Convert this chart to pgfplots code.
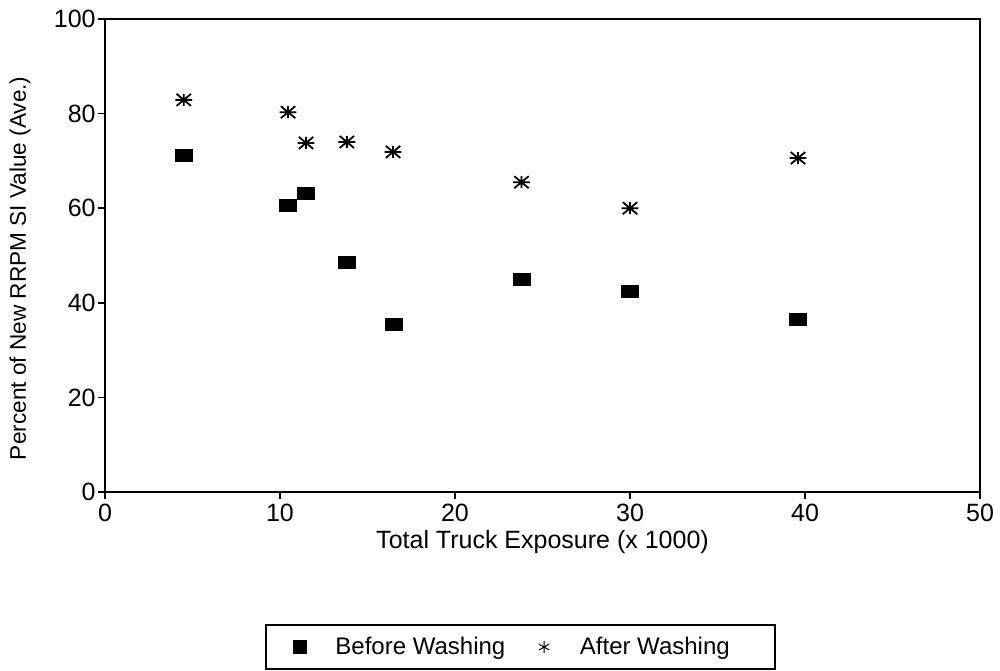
\documentclass[border=0pt]{standalone}
\usepackage{fontspec}
\setmainfont{Liberation Sans}
\usepackage{pgfplots}
\pgfplotsset{compat=1.18}
\pgfdeclareplotmark{wstar}{%
  \pgfpathmoveto{\pgfqpoint{-1.4\pgfplotmarksize}{0pt}}\pgfpathlineto{\pgfqpoint{1.4\pgfplotmarksize}{0pt}}%
  \pgfpathmoveto{\pgfqpoint{0pt}{-\pgfplotmarksize}}\pgfpathlineto{\pgfqpoint{0pt}{\pgfplotmarksize}}%
  \pgfpathmoveto{\pgfqpoint{-1.2\pgfplotmarksize}{-\pgfplotmarksize}}\pgfpathlineto{\pgfqpoint{1.2\pgfplotmarksize}{\pgfplotmarksize}}%
  \pgfpathmoveto{\pgfqpoint{-1.2\pgfplotmarksize}{\pgfplotmarksize}}\pgfpathlineto{\pgfqpoint{1.2\pgfplotmarksize}{-\pgfplotmarksize}}%
  \pgfusepathqstroke}
\begin{document}
\begin{tikzpicture}
\useasboundingbox (-52.5pt,-89pt) rectangle (447.5pt,246pt);
\begin{axis}[
  at={(0,0)}, anchor=south west,
  scale only axis, width=437.5pt, height=236.5pt,
  xmin=0, xmax=50, ymin=0, ymax=100,
  xtick={0,10,20,30,40,50}, ytick={0,20,40,60,80,100},
  xtick pos=bottom, ytick pos=left, tick align=outside,
  major tick length=3.5pt,
  tick style={black, line width=0.8pt},
  axis line style={line width=0.9pt},
  /pgf/number format/assume math mode=true,
  tick label style={font=\fontsize{12.5}{14}\selectfont},
  yticklabel style={inner xsep=1pt},
  xticklabel style={inner ysep=2.5pt},
  xlabel={Total Truck Exposure (x 1000)},
  ylabel={Percent of New RRPM SI Value (Ave.)},
  xlabel style={font=\fontsize{12.5}{14}\selectfont, at={(axis description cs:0.5,-0.105)}, anchor=center},
  ylabel style={font=\fontsize{11.3}{13}\selectfont, at={(axis description cs:-0.097,0.473)}, anchor=center},
  legend columns=2,
  legend image code/.code={%
    \path (-16.5pt,0pt) (17.5pt,0pt);
    \draw[#1] plot coordinates {(0pt,0pt)};},
  legend style={at={(0.1829,-0.2791)}, anchor=north west, draw=black, line width=0.8pt,
    font=\fontsize{12}{14}\selectfont, inner xsep=0pt, inner ysep=3pt,
    nodes={inner xsep=0pt, inner ysep=3pt},
    /tikz/every even column/.append style={column sep=2.5pt}},
  legend cell align=left,
]
\addplot[only marks, mark=square*, mark size=3pt, mark options={xscale=1.4, fill=black, draw=black},
  legend image post style={mark options={xscale=1.05, fill=black}}]
  coordinates {(4.5,71.1) (10.46,60.5) (11.49,63.2) (13.82,48.5) (16.5,35.5) (23.8,45.0) (30.0,42.5) (39.6,36.4)};
\addlegendentry{Before Washing}
\addplot[only marks, mark=wstar, mark size=3pt, mark options={line width=0.9pt, draw=black},
  legend image post style={mark=asterisk, mark size=3pt, mark options={line width=0.5pt}}]
  coordinates {(4.5,82.9) (10.46,80.3) (11.49,73.8) (13.82,74.0) (16.46,71.9) (23.8,65.5) (30.0,60.0) (39.6,70.6)};
\addlegendentry{After Washing\hspace*{22.5pt}}
\end{axis}
\end{tikzpicture}
\end{document}
